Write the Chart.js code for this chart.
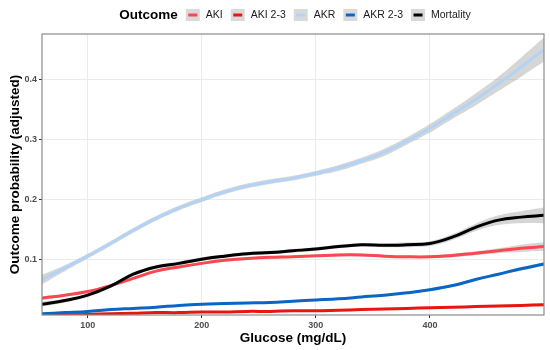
<!DOCTYPE html>
<html>
<head>
<meta charset="utf-8">
<script src="https://cdn.jsdelivr.net/npm/chart.js@4.4.1/dist/chart.umd.min.js"></script>
<style>
    html, body { margin: 0; padding: 0; background: #fff; }
</style>
</head>
<body>
<canvas id="lineChart" width="550" height="350"></canvas>
<script>
// glucose grid (mg/dL) and adjusted probabilities
const glucose = [60, 80, 100, 120, 140, 160, 180, 200, 220, 240, 260, 280, 300, 320, 340, 360, 380, 400, 420, 440, 460, 480, 500]
const aki      = [0.035, 0.040, 0.046, 0.056, 0.068, 0.080, 0.087, 0.093, 0.098, 0.101, 0.103, 0.104, 0.1055, 0.107, 0.107, 0.105, 0.104, 0.104, 0.106, 0.110, 0.114, 0.118, 0.121]
const aki23    = [0.006, 0.007, 0.008, 0.009, 0.010, 0.011, 0.011, 0.012, 0.012, 0.013, 0.013, 0.014, 0.014, 0.015, 0.016, 0.017, 0.018, 0.019, 0.020, 0.021, 0.022, 0.023, 0.024]
const akr      = [0.066, 0.085, 0.105, 0.126, 0.148, 0.168, 0.185, 0.199, 0.212, 0.222, 0.229, 0.235, 0.243, 0.252, 0.264, 0.278, 0.297, 0.318, 0.342, 0.366, 0.392, 0.420, 0.449]
const akr23    = [0.009, 0.011, 0.013, 0.016, 0.018, 0.020, 0.023, 0.025, 0.026, 0.027, 0.028, 0.030, 0.032, 0.034, 0.037, 0.040, 0.044, 0.049, 0.056, 0.066, 0.075, 0.084, 0.092]
const mortality = [0.025, 0.031, 0.040, 0.055, 0.075, 0.087, 0.093, 0.100, 0.105, 0.109, 0.111, 0.114, 0.117, 0.121, 0.124, 0.123, 0.124, 0.126, 0.137, 0.153, 0.165, 0.170, 0.173]

// half widths of the grey confidence ribbons
const akiSe       = [0.003, 0.002, 0.002, 0.002, 0.002, 0.002, 0.002, 0.002, 0.002, 0.002, 0.002, 0.002, 0.002, 0.002, 0.002, 0.002, 0.002, 0.002, 0.003, 0.003, 0.004, 0.006, 0.007]
const aki23Se     = [0.001, 0.001, 0.001, 0.001, 0.001, 0.001, 0.001, 0.001, 0.001, 0.001, 0.001, 0.001, 0.001, 0.001, 0.001, 0.001, 0.001, 0.001, 0.001, 0.001, 0.002, 0.002, 0.002]
const akrSe       = [0.008, 0.005, 0.004, 0.004, 0.004, 0.004, 0.004, 0.004, 0.004, 0.004, 0.004, 0.004, 0.004, 0.005, 0.005, 0.006, 0.006, 0.007, 0.008, 0.010, 0.012, 0.016, 0.020]
const akr23Se     = [0.001, 0.001, 0.001, 0.001, 0.001, 0.001, 0.001, 0.001, 0.001, 0.001, 0.001, 0.001, 0.001, 0.001, 0.001, 0.001, 0.001, 0.002, 0.002, 0.002, 0.002, 0.003, 0.003]
const mortalitySe = [0.004, 0.003, 0.003, 0.003, 0.003, 0.003, 0.003, 0.003, 0.003, 0.003, 0.003, 0.003, 0.003, 0.003, 0.003, 0.003, 0.004, 0.004, 0.005, 0.006, 0.008, 0.010, 0.013]

const outcomes = ['AKI', 'AKI 2-3', 'AKR', 'AKR 2-3', 'Mortality']
const legendTitle = 'Outcome'
const xTickValues = [100, 200, 300, 400]
const yTickValues = [0.1, 0.2, 0.3, 0.4]
const xTitle = 'Glucose (mg/dL)'
const yTitle = 'Outcome probability (adjusted)'

const FONT = '"Liberation Sans", Arial, sans-serif'

class OutcomeChart {
    series = [
        { values: aki, se: akiSe, color: '#FA4850' },
        { values: aki23, se: aki23Se, color: '#E8160F' },
        { values: akr, se: akrSe, color: '#B3D3F6' },
        { values: akr23, se: akr23Se, color: '#0A66C4' },
        { values: mortality, se: mortalitySe, color: '#000000' }
    ]
    chart = null

    toPoints = (arr) => glucose.map((g, i) => ({ x: g, y: arr[i] }))

    buildDatasets = () => {
        let bands = []
        let lines = []
        this.series.forEach((s, i) => {
            bands.push({
                label: outcomes[i] + ' upper',
                data: this.toPoints(s.values.map((v, j) => v + s.se[j])),
                fill: '+1',
                backgroundColor: 'rgba(153,153,153,0.4)',
                borderColor: 'transparent',
                borderWidth: 0,
                pointRadius: 0,
                tension: 0.4,
                clip: 0,
                order: 20
            })
            bands.push({
                label: outcomes[i] + ' lower',
                data: this.toPoints(s.values.map((v, j) => v - s.se[j])),
                fill: false,
                borderColor: 'transparent',
                borderWidth: 0,
                pointRadius: 0,
                tension: 0.4,
                clip: 0,
                order: 20
            })
            lines.push({
                label: outcomes[i],
                inLegend: true,
                data: this.toPoints(s.values),
                borderColor: s.color,
                backgroundColor: s.color,
                borderWidth: 3,
                pointRadius: 0,
                fill: false,
                tension: 0.4,
                clip: 0,
                order: 10 - i
            })
        })
        return bands.concat(lines)
    }

    // ggplot-like legend: bold title followed by grey keys in one row
    legendPlugin = {
        id: 'outcomeLegend',
        afterDraw: (chart) => {
            let ctx = chart.ctx
            let items = chart.data.datasets.filter(d => d.inLegend)
            ctx.save()
            ctx.font = 'bold 13.5px ' + FONT
            let titleW = ctx.measureText(legendTitle).width
            ctx.font = '10.5px ' + FONT
            let total = titleW + 8
            items.forEach((d, i) => {
                total += 14 + 6 + ctx.measureText(d.label).width + (i < items.length - 1 ? 8 : 0)
            })
            let area = chart.chartArea
            let x = (area.left + area.right) / 2 - total / 2 + 2
            let cy = 15
            ctx.textBaseline = 'middle'
            ctx.textAlign = 'left'
            ctx.fillStyle = '#000'
            ctx.font = 'bold 13.5px ' + FONT
            ctx.fillText(legendTitle, x, cy)
            x += titleW + 8
            ctx.font = '10.5px ' + FONT
            items.forEach((d) => {
                ctx.fillStyle = '#D9D9D9'
                ctx.fillRect(x, cy - 6, 14, 12)
                ctx.strokeStyle = d.borderColor
                ctx.lineWidth = 3
                ctx.beginPath()
                ctx.moveTo(x + 2.5, cy)
                ctx.lineTo(x + 11.5, cy)
                ctx.stroke()
                x += 14 + 6
                ctx.fillStyle = '#1A1A1A'
                ctx.fillText(d.label, x, cy + 0.5)
                x += ctx.measureText(d.label).width + 8
            })
            ctx.restore()
        }
    }

    panelBorder = {
        id: 'panelBorder',
        afterDatasetsDraw: (chart) => {
            let { ctx, chartArea: a } = chart
            ctx.save()
            ctx.strokeStyle = '#8C8C8C'
            ctx.lineWidth = 1.2
            ctx.strokeRect(a.left, a.top, a.right - a.left, a.bottom - a.top)
            ctx.restore()
        }
    }

    createLineChart = () => {
        let canvas = document.getElementById('lineChart')
        if (this.chart) {
            this.chart.destroy()
        }
        this.chart = new Chart(canvas, {
            type: 'line',
            data: { datasets: this.buildDatasets() },
            plugins: [this.legendPlugin, this.panelBorder],
            options: {
                responsive: false,
                animation: false,
                devicePixelRatio: 1,
                layout: { padding: { top: 34, right: 6, left: 0, bottom: 0 } },
                plugins: {
                    legend: { display: false },
                    tooltip: { enabled: false }
                },
                scales: {
                    x: {
                        type: 'linear',
                        min: 60,
                        max: 500,
                        afterBuildTicks: (scale) => { scale.ticks = xTickValues.map(v => ({ value: v })) },
                        afterFit: (scale) => { scale.height = 35 },
                        border: { display: false },
                        grid: { color: '#EBEBEB', lineWidth: 1, drawTicks: true, tickLength: 3, tickColor: '#333333' },
                        ticks: {
                            autoSkip: false,
                            maxRotation: 0,
                            padding: 2,
                            color: '#4D4D4D',
                            font: { family: FONT, size: 9, weight: 'bold' }
                        },
                        title: {
                            display: true,
                            text: xTitle,
                            color: '#000',
                            padding: { top: 0, bottom: 4 },
                            font: { family: FONT, size: 13.5, weight: 'bold' }
                        }
                    },
                    y: {
                        type: 'linear',
                        min: 0.007,
                        max: 0.475,
                        afterBuildTicks: (scale) => { scale.ticks = yTickValues.map(v => ({ value: v })) },
                        afterFit: (scale) => { scale.width = 42 },
                        border: { display: false },
                        grid: { color: '#EBEBEB', lineWidth: 1, drawTicks: true, tickLength: 3, tickColor: '#333333' },
                        ticks: {
                            padding: 2,
                            color: '#4D4D4D',
                            font: { family: FONT, size: 9, weight: 'bold' },
                            callback: (v) => v.toFixed(1)
                        },
                        title: {
                            display: true,
                            text: yTitle,
                            color: '#000',
                            padding: { top: 7, bottom: 0 },
                            font: { family: FONT, size: 13.5, weight: 'bold' }
                        }
                    }
                }
            }
        })
    }
}

new OutcomeChart().createLineChart()
</script>
</body>
</html>
